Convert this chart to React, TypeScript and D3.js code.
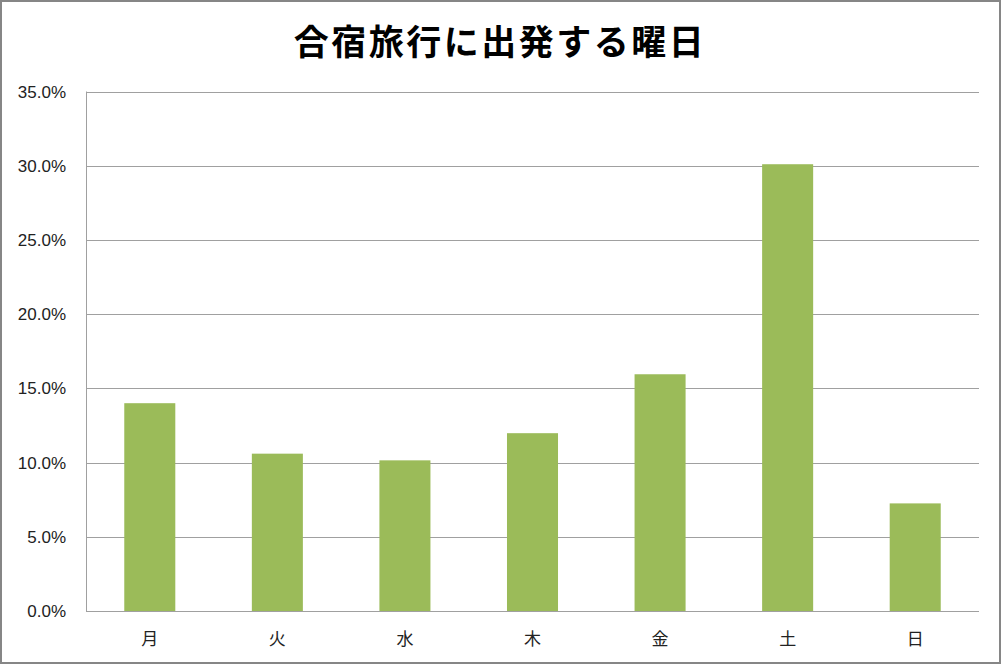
import React, { useEffect, useRef } from "react";
import * as d3 from "d3";

const categories = ["月", "火", "水", "木", "金", "土", "日"];
const values = [0.14, 0.106, 0.1015, 0.1198, 0.1595, 0.301, 0.0725];
const yTicks = [0, 0.05, 0.1, 0.15, 0.2, 0.25, 0.3, 0.35];
const title = "合宿旅行に出発する曜日";

const W = 1002;
const H = 666;
const margin = { left: 86, right: 23, top: 91.5, bottom: 55 };

export default function App() {
  const ref = useRef<SVGSVGElement>(null);

  useEffect(() => {
    const svg = d3.select(ref.current);
    svg.selectAll("*").remove();

    const x = d3
      .scaleBand<string>()
      .domain(categories)
      .range([margin.left, W - margin.right])
      .paddingInner(0.6)
      .paddingOuter(0.3);
    const y = d3
      .scaleLinear()
      .domain([0, 0.35])
      .range([H - margin.bottom, margin.top]);

    svg
      .append("rect")
      .attr("x", 1)
      .attr("y", 1)
      .attr("width", W - 3)
      .attr("height", H - 4)
      .attr("fill", "#fff")
      .attr("stroke", "#868686")
      .attr("stroke-width", 2);

    svg
      .append("text")
      .attr("x", 500)
      .attr("y", 55)
      .attr("text-anchor", "middle")
      .attr("font-family", "'Noto Sans CJK JP', sans-serif")
      .attr("font-weight", "bold")
      .attr("font-size", 35)
      .attr("letter-spacing", 2.5)
      .attr("fill", "#000")
      .text(title);

    const grid = svg.append("g");
    grid
      .selectAll("line")
      .data(yTicks)
      .join("line")
      .attr("x1", margin.left)
      .attr("x2", W - margin.right)
      .attr("y1", (d) => Math.round(y(d)) + 0.5)
      .attr("y2", (d) => Math.round(y(d)) + 0.5)
      .attr("stroke", "#a0a0a0")
      .attr("stroke-width", 1);

    svg
      .append("line")
      .attr("x1", margin.left + 0.5)
      .attr("x2", margin.left + 0.5)
      .attr("y1", y(0.35))
      .attr("y2", y(0))
      .attr("stroke", "#a0a0a0");

    svg
      .append("g")
      .selectAll("text")
      .data(yTicks)
      .join("text")
      .attr("x", 66)
      .attr("y", (d) => y(d) + 6)
      .attr("text-anchor", "end")
      .attr("font-family", "'Liberation Sans', 'Noto Sans', sans-serif")
      .attr("font-size", 17)
      .attr("fill", "#222")
      .text((d) => d3.format(".1%")(d));

    svg
      .append("g")
      .selectAll("rect")
      .data(values)
      .join("rect")
      .attr("x", (_, i) => x(categories[i])!)
      .attr("width", x.bandwidth())
      .attr("y", (d) => y(d))
      .attr("height", (d) => y(0) - y(d))
      .attr("fill", "#9bbb59");

    svg
      .append("line")
      .attr("x1", margin.left)
      .attr("x2", W - margin.right)
      .attr("y1", Math.round(y(0)) + 0.5)
      .attr("y2", Math.round(y(0)) + 0.5)
      .attr("stroke", "#a0a0a0");

    svg
      .append("g")
      .selectAll("text")
      .data(categories)
      .join("text")
      .attr("x", (d) => x(d)! + x.bandwidth() / 2)
      .attr("y", 645)
      .attr("text-anchor", "middle")
      .attr("font-family", "'Noto Sans CJK JP', sans-serif")
      .attr("font-size", 17)
      .attr("fill", "#222")
      .text((d) => d);
  }, []);

  return (
    <svg
      ref={ref}
      width={W}
      height={H}
      style={{ position: "absolute", left: 0, top: 0, display: "block" }}
    />
  );
}
